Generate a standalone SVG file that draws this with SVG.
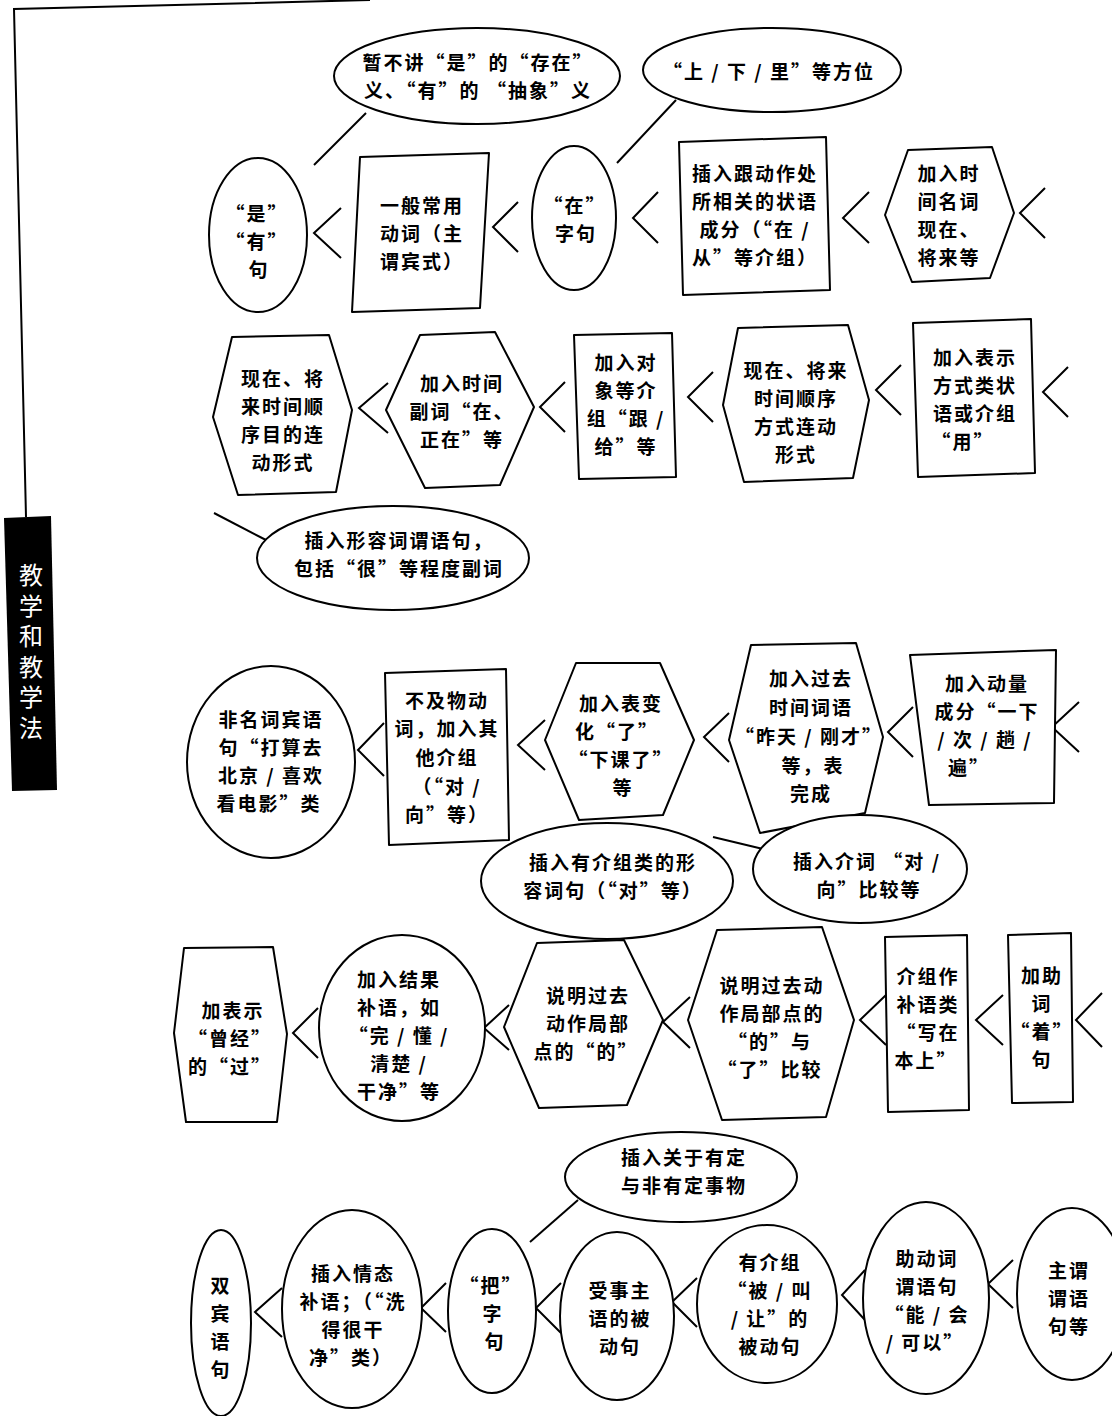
<svg xmlns="http://www.w3.org/2000/svg" width="1112" height="1416" viewBox="0 0 1112 1416">
<style>
.s{fill:#fff;stroke:#000;stroke-width:2;stroke-linejoin:round}
.t{font-family:"Noto Sans CJK SC","Noto Sans",sans-serif;font-size:19px;letter-spacing:2px;font-weight:bold;fill:#000;text-anchor:middle}
.c{fill:none;stroke:#000;stroke-width:2;stroke-linejoin:miter}
.side{font-family:"Noto Sans CJK SC",sans-serif;font-size:24px;letter-spacing:6.5px;fill:#fff;writing-mode:vertical-rl;glyph-orientation-vertical:0}
</style>
<rect x="0" y="0" width="1112" height="1416" fill="#fff"/>
<g id="page-frame">
<polyline class="c" points="370,0 14,9 26,517" stroke-width="1.5"/>
<polygon points="4,518 51,516 57,790 12,791" fill="#000"/>
<text class="side" x="31" y="563">教学和教学法</text>
</g>
<g id="connectors">
<line class="c" x1="366" y1="113" x2="314" y2="165"/>
<line class="c" x1="676" y1="100" x2="617" y2="163"/>
<line class="c" x1="214" y1="513" x2="266" y2="540"/>
<line class="c" x1="713" y1="837" x2="763" y2="849"/>
<line class="c" x1="578" y1="1200" x2="530" y2="1242"/>
<polyline class="c" points="341,208 314,233 341,258"/>
<polyline class="c" points="518,202 493,227 518,252"/>
<polyline class="c" points="658,192 633,218 658,243"/>
<polyline class="c" points="869,192 843,218 869,243"/>
<polyline class="c" points="1045,188 1020,213 1045,238"/>
<polyline class="c" points="388,383 359,408 388,433"/>
<polyline class="c" points="565,382 540,407 565,432"/>
<polyline class="c" points="713,372 688,397 713,422"/>
<polyline class="c" points="901,365 876,390 901,415"/>
<polyline class="c" points="1068,367 1043,392 1068,417"/>
<polyline class="c" points="384,723 358,750 384,776"/>
<polyline class="c" points="545,720 518,745 545,770"/>
<polyline class="c" points="729,713 704,737 729,762"/>
<polyline class="c" points="913,707 888,732 913,757"/>
<polyline class="c" points="1079,702 1052,727 1079,752"/>
<polyline class="c" points="318,1008 293,1033 318,1058"/>
<polyline class="c" points="509,1005 484,1028 509,1050"/>
<polyline class="c" points="690,997 663,1022 690,1048"/>
<polyline class="c" points="886,995 860,1020 886,1045"/>
<polyline class="c" points="1003,995 976,1020 1003,1045"/>
<polyline class="c" points="1102,993 1076,1020 1102,1047"/>
<polyline class="c" points="282,1288 255,1312 282,1337"/>
<polyline class="c" points="446,1283 421,1308 446,1332"/>
<polyline class="c" points="561,1283 536,1308 561,1333"/>
<polyline class="c" points="697,1278 672,1302 697,1327"/>
<polyline class="c" points="865,1270 842,1295 865,1320"/>
<polyline class="c" points="1013,1260 988,1284 1013,1308"/>
</g>
<g id="n1"><ellipse class="s" cx="477" cy="76" rx="143" ry="48"/>
<text class="t"><tspan x="478" y="70">暂不讲“是”的“存在”</tspan><tspan x="478" y="98">义、“有”的 “抽象”义</tspan></text></g>
<g id="n2"><ellipse class="s" cx="772" cy="70" rx="129" ry="42"/>
<text class="t"><tspan x="769" y="79">“上 / 下 / 里”等方位</tspan></text></g>
<g id="n3"><ellipse class="s" cx="258" cy="235" rx="49" ry="77"/>
<text class="t"><tspan x="257" y="221">“是”</tspan><tspan x="257" y="249">“有”</tspan><tspan x="259" y="277">句</tspan></text></g>
<g id="n4"><polygon class="s" points="360,157 489,153 480,308 352,312"/>
<text class="t"><tspan x="422" y="213">一般常用</tspan><tspan x="422" y="241">动词（主</tspan><tspan x="422" y="269">谓宾式）</tspan></text></g>
<g id="n5"><ellipse class="s" cx="574" cy="218" rx="42" ry="72"/>
<text class="t"><tspan x="575" y="213">“在”</tspan><tspan x="576" y="241">字句</tspan></text></g>
<g id="n6"><polygon class="s" points="679,142 826,137 830,290 683,295"/>
<text class="t"><tspan x="755" y="181">插入跟动作处</tspan><tspan x="755" y="209">所相关的状语</tspan><tspan x="755" y="237">成分（“在 /</tspan><tspan x="755" y="265">从”等介组）</tspan></text></g>
<g id="n7"><polygon class="s" points="908,150 992,147 1014,213 990,278 912,282 885,215"/>
<text class="t"><tspan x="949" y="181">加入时</tspan><tspan x="949" y="209">间名词</tspan><tspan x="949" y="237">现在、</tspan><tspan x="949" y="265">将来等</tspan></text></g>
<g id="n8"><polygon class="s" points="232,337 329,335 352,410 336,492 238,495 213,417"/>
<text class="t"><tspan x="283" y="386">现在、将</tspan><tspan x="283" y="414">来时间顺</tspan><tspan x="283" y="442">序目的连</tspan><tspan x="283" y="470">动形式</tspan></text></g>
<g id="n9"><polygon class="s" points="420,335 495,332 534,407 500,485 425,488 386,410"/>
<text class="t"><tspan x="462" y="391">加入时间</tspan><tspan x="462" y="419">副词“在、</tspan><tspan x="462" y="447">正在”等</tspan></text></g>
<g id="n10"><polygon class="s" points="574,335 672,333 676,477 579,479"/>
<text class="t"><tspan x="626" y="370">加入对</tspan><tspan x="626" y="398">象等介</tspan><tspan x="626" y="426">组“跟 /</tspan><tspan x="626" y="454">给”等</tspan></text></g>
<g id="n11"><polygon class="s" points="738,328 848,325 869,400 853,478 744,482 723,405"/>
<text class="t"><tspan x="796" y="378">现在、将来</tspan><tspan x="796" y="406">时间顺序</tspan><tspan x="796" y="434">方式连动</tspan><tspan x="796" y="462">形式</tspan></text></g>
<g id="n12"><polygon class="s" points="913,323 1031,319 1035,473 918,477"/>
<text class="t"><tspan x="975" y="365">加入表示</tspan><tspan x="975" y="393">方式类状</tspan><tspan x="975" y="421">语或介组</tspan><tspan x="963" y="449">“用”</tspan></text></g>
<g id="n13"><ellipse class="s" cx="393" cy="558" rx="136" ry="52"/>
<text class="t"><tspan x="399" y="548">插入形容词谓语句，</tspan><tspan x="399" y="576">包括“很”等程度副词</tspan></text></g>
<g id="n14"><ellipse class="s" cx="271" cy="762" rx="84" ry="96"/>
<text class="t"><tspan x="271" y="727">非名词宾语</tspan><tspan x="271" y="755">句“打算去</tspan><tspan x="271" y="783">北京 / 喜欢</tspan><tspan x="269" y="811">看电影”类</tspan></text></g>
<g id="n15"><polygon class="s" points="385,673 506,669 509,840 389,845"/>
<text class="t"><tspan x="447" y="708">不及物动</tspan><tspan x="447" y="736">词，加入其</tspan><tspan x="447" y="765">他介组</tspan><tspan x="447" y="794">（“对 /</tspan><tspan x="447" y="822">向”等）</tspan></text></g>
<g id="n16"><polygon class="s" points="576,663 660,663 694,740 663,815 579,820 545,740"/>
<text class="t"><tspan x="621" y="711">加入表变</tspan><tspan x="617" y="739">化“了”</tspan><tspan x="621" y="767">“下课了”</tspan><tspan x="623" y="795">等</tspan></text></g>
<g id="n17"><polygon class="s" points="751,645 856,643 883,737 865,813 760,833 729,740"/>
<text class="t"><tspan x="811" y="686">加入过去</tspan><tspan x="811" y="715">时间词语</tspan><tspan x="809" y="744">“昨天 / 刚才”</tspan><tspan x="813" y="773">等，表</tspan><tspan x="811" y="801">完成</tspan></text></g>
<g id="n18"><polygon class="s" points="910,655 1056,650 1054,803 929,805"/>
<text class="t"><tspan x="987" y="691">加入动量</tspan><tspan x="987" y="719">成分“一下</tspan><tspan x="985" y="747">/ 次 / 趟 /</tspan><tspan x="969" y="775">遍”</tspan></text></g>
<g id="n19"><ellipse class="s" cx="607" cy="881" rx="126" ry="58"/>
<text class="t"><tspan x="613" y="870">插入有介组类的形</tspan><tspan x="613" y="898">容词句（“对”等）</tspan></text></g>
<g id="n20"><ellipse class="s" cx="860" cy="869" rx="107" ry="54"/>
<text class="t"><tspan x="867" y="869">插入介词 “对 /</tspan><tspan x="869" y="897">向”比较等</tspan></text></g>
<g id="n21"><polygon class="s" points="184,948 273,947 287,1034 277,1122 186,1122 174,1033"/>
<text class="t"><tspan x="233" y="1018">加表示</tspan><tspan x="230" y="1046">“曾经”</tspan><tspan x="230" y="1074">的“过”</tspan></text></g>
<g id="n22"><ellipse class="s" cx="402" cy="1028" rx="83" ry="93"/>
<text class="t"><tspan x="399" y="987">加入结果</tspan><tspan x="399" y="1015">补语，如</tspan><tspan x="399" y="1043">“完 / 懂 /</tspan><tspan x="399" y="1071">清楚 /</tspan><tspan x="399" y="1099">干净”等</tspan></text></g>
<g id="n23"><polygon class="s" points="537,943 624,940 663,1020 627,1105 539,1108 504,1027"/>
<text class="t"><tspan x="588" y="1003">说明过去</tspan><tspan x="588" y="1031">动作局部</tspan><tspan x="586" y="1059">点的“的”</tspan></text></g>
<g id="n24"><polygon class="s" points="717,930 822,927 854,1020 826,1117 722,1120 688,1020"/>
<text class="t"><tspan x="772" y="993">说明过去动</tspan><tspan x="772" y="1021">作局部点的</tspan><tspan x="770" y="1049">“的”与</tspan><tspan x="770" y="1077">“了”比较</tspan></text></g>
<g id="n25"><polygon class="s" points="885,937 967,935 969,1110 888,1112"/>
<text class="t"><tspan x="928" y="984">介组作</tspan><tspan x="928" y="1012">补语类</tspan><tspan x="928" y="1040">“写在</tspan><tspan x="926" y="1068">本上”</tspan></text></g>
<g id="n26"><polygon class="s" points="1008,935 1071,933 1073,1102 1012,1103"/>
<text class="t"><tspan x="1042" y="983">加助</tspan><tspan x="1042" y="1011">词</tspan><tspan x="1042" y="1039">“着”</tspan><tspan x="1042" y="1067">句</tspan></text></g>
<g id="n27"><ellipse class="s" cx="681" cy="1177" rx="116" ry="45"/>
<text class="t"><tspan x="684" y="1165">插入关于有定</tspan><tspan x="684" y="1193">与非有定事物</tspan></text></g>
<g id="n28"><ellipse class="s" cx="221" cy="1323" rx="30" ry="93"/>
<text class="t"><tspan x="221" y="1293">双</tspan><tspan x="221" y="1321">宾</tspan><tspan x="221" y="1349">语</tspan><tspan x="221" y="1377">句</tspan></text></g>
<g id="n29"><ellipse class="s" cx="352" cy="1309" rx="70" ry="99"/>
<text class="t"><tspan x="353" y="1281">插入情态</tspan><tspan x="353" y="1309">补语；（“洗</tspan><tspan x="353" y="1337">得很干</tspan><tspan x="351" y="1365">净”类）</tspan></text></g>
<g id="n30"><ellipse class="s" cx="492" cy="1311" rx="44" ry="82"/>
<text class="t"><tspan x="491" y="1293">“把”</tspan><tspan x="493" y="1321">字</tspan><tspan x="495" y="1349">句</tspan></text></g>
<g id="n31"><ellipse class="s" cx="617" cy="1316" rx="57" ry="84"/>
<text class="t"><tspan x="620" y="1298">受事主</tspan><tspan x="620" y="1326">语的被</tspan><tspan x="620" y="1354">动句</tspan></text></g>
<g id="n32"><ellipse class="s" cx="767" cy="1304" rx="70" ry="79"/>
<text class="t"><tspan x="770" y="1270">有介组</tspan><tspan x="770" y="1298">“被 / 叫</tspan><tspan x="770" y="1326">/ 让”的</tspan><tspan x="770" y="1354">被动句</tspan></text></g>
<g id="n33"><ellipse class="s" cx="926" cy="1298" rx="63" ry="96"/>
<text class="t"><tspan x="927" y="1266">助动词</tspan><tspan x="927" y="1294">谓语句</tspan><tspan x="927" y="1322">“能 / 会</tspan><tspan x="925" y="1350">/ 可以”</tspan></text></g>
<g id="n34"><ellipse class="s" cx="1072" cy="1294" rx="55" ry="86"/>
<text class="t"><tspan x="1069" y="1278">主谓</tspan><tspan x="1069" y="1306">谓语</tspan><tspan x="1069" y="1334">句等</tspan></text></g>
</svg>
